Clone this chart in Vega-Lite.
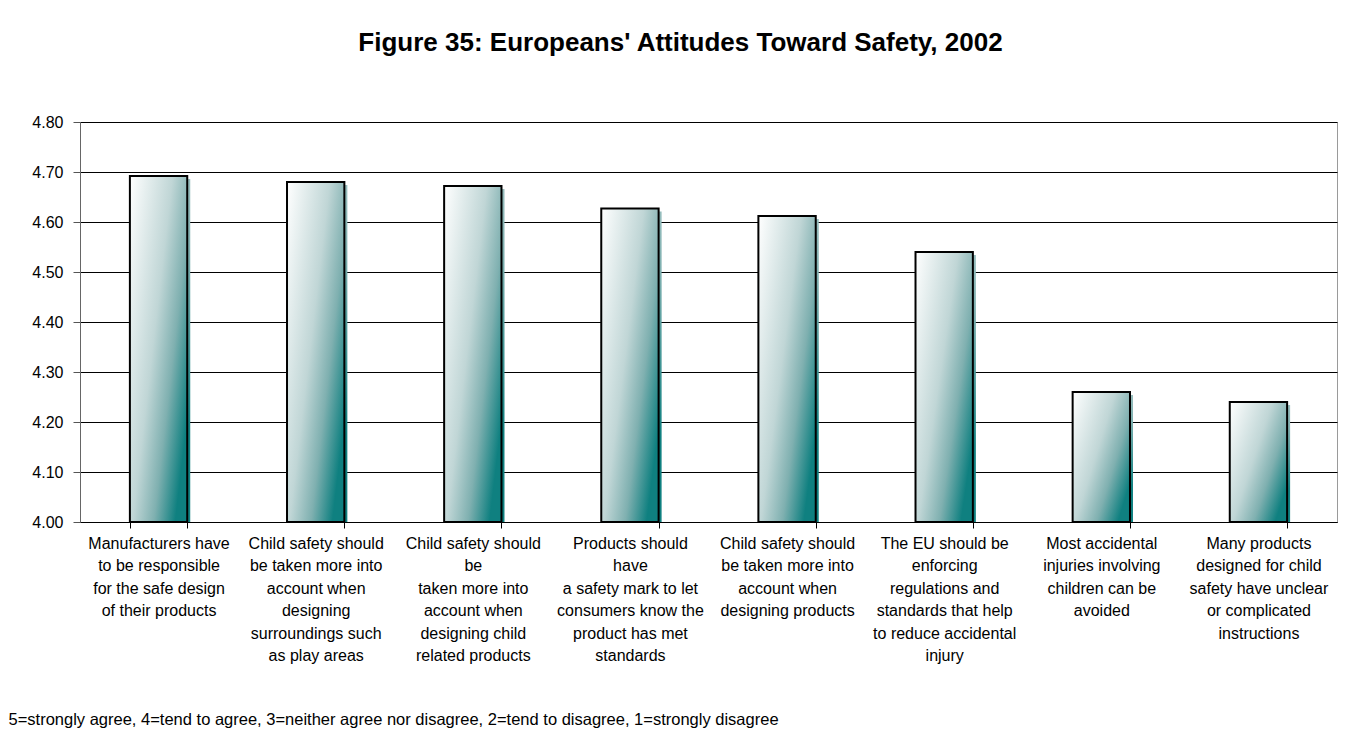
{
  "$schema": "https://vega.github.io/schema/vega-lite/v6.json",
  "width": 1257,
  "height": 400,
  "autosize": {"type": "none"},
  "padding": {"left": 80, "top": 122, "right": 24, "bottom": 211},
  "background": "white",
  "title": {
    "text": "Figure 35: Europeans' Attitudes Toward Safety, 2002",
    "font": "Liberation Sans",
    "fontSize": 26,
    "fontWeight": "bold",
    "color": "#000000",
    "anchor": "middle",
    "dx": -28,
    "baseline": "alphabetic",
    "offset": 37
  },
  "config": {
    "view": {"stroke": "#9a9a9a", "strokeWidth": 1},
    "font": "Liberation Sans"
  },
  "data": {
    "values": [
      {"label": "Manufacturers have|to be responsible|for the safe design|of their products", "value": 4.692},
      {"label": "Child safety should|be taken more into|account when|designing|surroundings such|as play areas", "value": 4.68},
      {"label": "Child safety should|be|taken more into|account when|designing child|related products", "value": 4.672},
      {"label": "Products should|have|a safety mark to let|consumers know the|product has met|standards", "value": 4.627},
      {"label": "Child safety should|be taken more into|account when|designing products", "value": 4.612},
      {"label": "The EU should be|enforcing|regulations and|standards that help|to reduce accidental|injury", "value": 4.54},
      {"label": "Most accidental|injuries involving|children can be|avoided", "value": 4.26},
      {"label": "Many products|designed for child|safety have unclear|or complicated|instructions", "value": 4.24}
    ]
  },
  "encoding": {
    "x": {
      "field": "label",
      "type": "nominal",
      "sort": null,
      "scale": {"paddingInner": 0.635, "paddingOuter": 0.3175},
      "axis": {
        "title": "5=strongly agree, 4=tend to agree, 3=neither agree nor disagree, 2=tend to disagree, 1=strongly disagree",
        "titleFont": "Liberation Sans",
        "titleFontSize": 16.5,
        "titleFontWeight": "normal",
        "titleColor": "#000000",
        "titleX": -72,
        "titleY": 197,
        "titleAlign": "left",
        "titleAnchor": "start",
        "titleBaseline": "middle",
        "labelExpr": "split(datum.label, '|')",
        "labelAngle": 0,
        "labelFont": "Liberation Sans",
        "labelFontSize": 16,
        "labelColor": "#000000",
        "labelLineHeight": 22.5,
        "labelBaseline": "top",
        "labelPadding": 7,
        "labelLimit": 200,
        "tickBand": "extent",
        "tickSize": 6,
        "tickColor": "#000000",
        "domainColor": "#000000",
        "domainWidth": 1,
        "grid": false
      }
    },
    "y": {
      "field": "value",
      "type": "quantitative",
      "scale": {"domain": [4.0, 4.8], "zero": false, "nice": false},
      "axis": {
        "title": null,
        "values": [4.0, 4.1, 4.2, 4.3, 4.4, 4.5, 4.6, 4.7, 4.8],
        "format": ".2f",
        "labelFont": "Liberation Sans",
        "labelFontSize": 16,
        "labelColor": "#000000",
        "labelPadding": 10,
        "tickSize": 7,
        "tickColor": "#555555",
        "domainColor": "#666666",
        "gridColor": "#000000",
        "gridWidth": 1,
        "gridOpacity": 1
      }
    },
    "y2": {"datum": 4.0}
  },
  "layer": [
    {
      "mark": {
        "type": "bar",
        "xOffset": 3,
        "yOffset": 3,
        "clip": true,
        "color": {
          "gradient": "linear",
          "x1": 0, "y1": 0, "x2": 1, "y2": 0.7,
          "stops": [
            {"offset": 0, "color": "#ffffff"},
            {"offset": 0.5, "color": "#c0d6d6"},
            {"offset": 0.75, "color": "#7fb0b0"},
            {"offset": 1, "color": "#0f8080"}
          ]
        }
      }
    },
    {
      "mark": {
        "type": "bar",
        "stroke": "#000000",
        "strokeWidth": 2,
        "color": {
          "gradient": "linear",
          "x1": 0, "y1": 0, "x2": 1, "y2": 0.7,
          "stops": [
            {"offset": 0, "color": "#ffffff"},
            {"offset": 0.5, "color": "#c0d6d6"},
            {"offset": 0.75, "color": "#7fb0b0"},
            {"offset": 1, "color": "#0f8080"}
          ]
        }
      }
    }
  ]
}
